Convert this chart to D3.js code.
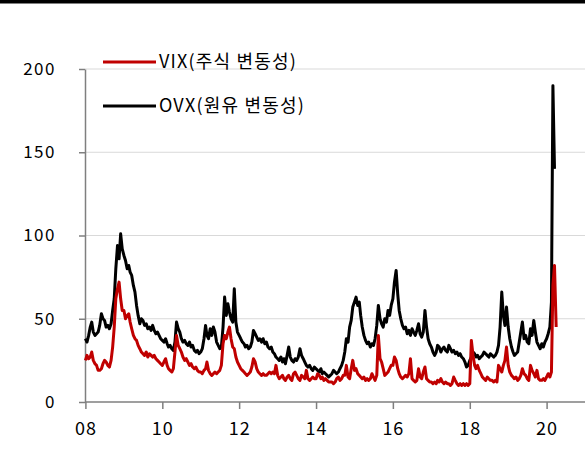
<!DOCTYPE html>
<html><head><meta charset="utf-8">
<script src="https://cdn.jsdelivr.net/npm/d3@7"></script>
<style>
html,body{margin:0;padding:0;background:#fff;}
text{font-family:"Noto Sans CJK KR","Noto Sans",sans-serif;}
</style></head>
<body>
<svg id="chart" width="585" height="462"></svg>
<script>
// Semi-monthly observations (1st and 16th of each month) starting 2008-01-01
const startYear = 2008;
const seriesNames = ["VIX(주식 변동성)", "OVX(원유 변동성)"];
const seriesColors = ["#c00000", "#000000"];
const yTicks = [0, 50, 100, 150, 200];
const xTickYears = [2008, 2010, 2012, 2014, 2016, 2018, 2020];

const vix = [
  25,28,26,27,30,25,23,22,19,19,20,23,25,24,22,21,25,33,45,62,68,72,62,55, // 2008
  55,50,52,53,48,44,40,38,37,34,32,30,29,28,30,27,29,28,27,28,26,25,24,23, // 2009
  22,24,26,22,20,19,18,20,30,40,34,32,30,27,25,26,24,22,23,21,20,21,19,18, // 2010
  18,17,19,20,24,19,17,16,17,18,17,18,19,22,35,40,38,42,45,38,33,32,27,24, // 2011
  22,20,19,18,17,16,17,18,21,26,24,20,18,17,16,17,16,16,17,18,17,18,17,22, // 2012
  16,14,15,16,14,13,15,16,14,13,17,18,16,14,13,16,15,14,19,14,13,14,15,14, // 2013
  14,17,16,14,15,13,14,13,12,12,12,11,12,14,15,13,14,16,16,22,15,14,20,25, // 2014
  19,20,17,16,15,14,15,13,14,13,14,17,15,13,16,40,26,24,20,16,17,18,20,22, // 2015
  22,27,25,20,17,15,14,15,16,15,17,26,14,13,12,13,20,15,14,18,21,14,13,12, // 2016
  12,11,12,11,13,12,14,12,11,12,11,11,10,11,15,13,11,10,11,10,11,10,11,10, // 2017
  11,37,28,22,20,22,19,17,15,14,13,15,14,13,13,12,13,12,22,20,18,22,25,33, // 2018
  22,18,16,15,14,15,13,14,16,20,17,16,14,13,22,19,17,15,19,14,13,13,14,13, // 2019
  15,17,15,18,70,82,45                                                      // 2020
];

const ovx = [
  38,36,40,45,48,42,40,41,42,46,53,50,49,45,46,44,47,55,62,80,94,86,101,92, // 2008
  88,85,80,82,78,76,70,66,58,52,47,50,49,46,47,44,45,43,46,43,41,42,40,38,  // 2009
  37,36,38,35,33,34,32,31,36,48,44,42,38,36,37,35,34,36,33,34,31,30,31,29,  // 2010
  30,32,38,46,40,38,44,40,45,42,36,34,32,33,45,63,52,59,54,50,48,68,48,42,  // 2011
  40,38,36,35,33,34,32,33,36,43,41,39,37,38,36,38,35,36,33,32,33,30,29,27,  // 2012
  26,25,27,24,26,23,28,33,27,25,24,26,25,27,32,28,26,24,22,21,22,20,19,21,  // 2013
  20,19,18,20,17,18,17,16,15,16,17,19,18,17,18,20,22,25,30,38,36,45,49,57,  // 2014
  60,63,58,60,52,45,40,37,35,36,33,35,34,38,46,58,50,47,45,50,48,55,52,58,  // 2015
  62,72,79,65,55,50,46,44,45,41,43,40,44,42,40,43,47,41,39,42,55,45,38,35,  // 2016
  33,30,28,30,34,33,30,32,33,31,30,34,32,30,31,29,30,28,29,27,26,24,21,22,  // 2017
  25,27,30,29,27,28,26,27,28,30,29,28,27,29,28,27,28,30,34,45,66,52,46,57,  // 2018
  45,38,33,30,28,29,30,36,42,48,38,40,36,35,44,40,49,42,36,34,32,35,33,36,  // 2019
  38,41,45,60,190,140                                                       // 2020
];

function obsDate(i) {
  const y = startYear + Math.floor(i / 24);
  const m = Math.floor((i % 24) / 2);
  return new Date(y, m, (i % 2) ? 16 : 1);
}

const svg = d3.select("#chart");
const W = 585, H = 462;

// top bar
svg.append("rect").attr("x", 0).attr("y", 0).attr("width", W).attr("height", 3.5).attr("fill", "#000");

const x = d3.scaleTime()
  .domain([new Date(2008, 0, 1), new Date(2020, 0, 1)])
  .range([85.4, 546.6]);
const y = d3.scaleLinear().domain([0, 200]).range([402, 69]);

// gridlines
svg.append("g").selectAll("line").data(yTicks.filter(d => d > 0)).join("line")
  .attr("x1", 85).attr("x2", W)
  .attr("y1", d => y(d)).attr("y2", d => y(d))
  .attr("stroke", "#d9d9d9").attr("stroke-width", 1);

// y axis
const yAxis = svg.append("g").attr("transform", "translate(85,0)")
  .call(d3.axisLeft(y).tickValues(yTicks).tickSize(6).tickSizeOuter(0).tickPadding(23));
yAxis.select(".domain").attr("stroke", "#7f7f7f").attr("stroke-width", 1.5);
yAxis.selectAll(".tick line").attr("stroke", "#7f7f7f").attr("stroke-width", 1.5);
yAxis.selectAll(".tick text").attr("font-size", 17).attr("letter-spacing", 1.5).attr("fill", "#000");

// x axis
const xAxis = svg.append("g").attr("transform", "translate(0,402)")
  .call(d3.axisBottom(x)
    .tickValues(xTickYears.map(v => new Date(v, 0, 1)))
    .tickFormat(d3.timeFormat("%y"))
    .tickSize(7).tickSizeOuter(0).tickPadding(13));
xAxis.select(".domain").attr("d", `M85,0H${W}`).attr("stroke", "#7f7f7f").attr("stroke-width", 1.5);
xAxis.selectAll(".tick line").attr("stroke", "#7f7f7f").attr("stroke-width", 1.5);
xAxis.selectAll(".tick text").attr("font-size", 18).attr("letter-spacing", 1).attr("fill", "#000");

const line = d3.line()
  .x((d, i) => x(obsDate(i)))
  .y(d => y(d));

svg.append("path").datum(ovx).attr("d", line)
  .attr("fill", "none").attr("stroke", seriesColors[1]).attr("stroke-width", 3)
  .attr("stroke-linejoin", "round");
svg.append("path").datum(vix).attr("d", line)
  .attr("fill", "none").attr("stroke", seriesColors[0]).attr("stroke-width", 3)
  .attr("stroke-linejoin", "round");

// legend
const legendY = [62, 106];
const lg = svg.append("g");
seriesNames.forEach((name, i) => {
  lg.append("line").attr("x1", 103).attr("x2", 156)
    .attr("y1", legendY[i]).attr("y2", legendY[i])
    .attr("stroke", seriesColors[i]).attr("stroke-width", 3);
  lg.append("text").attr("x", 159).attr("y", legendY[i]).attr("dy", "0.35em")
    .attr("font-size", 18).attr("letter-spacing", 1.2).attr("fill", "#000").text(name);
});
</script>
</body></html>
